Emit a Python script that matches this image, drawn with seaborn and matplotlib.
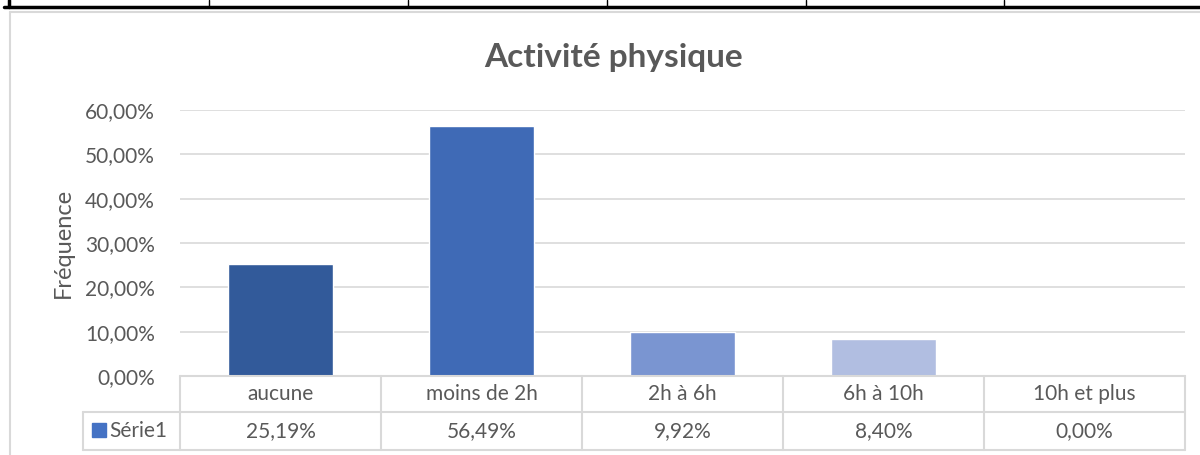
import matplotlib
matplotlib.use('Agg')
import matplotlib.pyplot as plt
import seaborn as sns
import pandas as pd
from matplotlib.lines import Line2D
from matplotlib.patches import Rectangle

# data
categories = ['aucune', 'moins de 2h', '2h à 6h', '6h à 10h', '10h et plus']
frequences = [0.2519, 0.5649, 0.0992, 0.0840, 0.0]
bar_colors = ['#325A9A', '#3F6AB6', '#7A95D1', '#B1BEE1', '#D5DCEF']
y_ticks = [0, 0.1, 0.2, 0.3, 0.4, 0.5, 0.6]
series_name = 'Série1'
title = 'Activité physique'
y_label = 'Fréquence'

W, H = 1200, 455


def fx(px):
    return px / W


def fy(py):
    return 1 - py / H


def fr(v):
    return f'{v * 100:.2f}%'.replace('.', ',')


sns.set_theme(style='white')
plt.rcParams['font.family'] = ['Lato', 'DejaVu Sans']

grey_text = '#595959'
grid_grey = '#D9D9D9'

fig = plt.figure(figsize=(12, 4.55), dpi=100)
ax = fig.add_axes([fx(180), fy(376), fx(1185) - fx(180), fy(110) - fy(376)])

df = pd.DataFrame({'cat': categories, 'val': frequences})
sns.barplot(data=df, x='cat', y='val', hue='cat', palette=bar_colors,
            width=0.52, saturation=1, legend=False, ax=ax)

ax.set_xlim(-0.5, 4.5)
ax.set_ylim(0, 0.6)
ax.set_yticks(y_ticks)
ax.set_yticklabels([fr(v) for v in y_ticks], color=grey_text, fontsize=15)
ax.tick_params(axis='y', length=0, pad=18)
ax.set_xticks([])
ax.set_xlabel('')
ax.set_ylabel('')
ax.yaxis.grid(True, color=grid_grey, lw=1.2)
ax.set_axisbelow(True)
for s in ax.spines.values():
    s.set_visible(False)

fig.text(fx(63), fy(243), y_label, rotation=90, ha='center', va='center',
         fontsize=17, color=grey_text)
fig.text(fx(614), fy(57), title, ha='center', va='center', fontsize=24,
         fontweight='bold', color=grey_text)

# data table under the axis
ax_h = 266
r1 = -36 / ax_h
r2 = -74 / ax_h
leg_left = -0.5 - 97 / 201
tr = ax.get_xaxis_transform()
kw = dict(color=grid_grey, lw=1.5, transform=tr, clip_on=False)
ax.plot([-0.5, 4.5], [0, 0], **kw)
ax.plot([leg_left, 4.5], [r1, r1], **kw)
ax.plot([leg_left, 4.5], [r2, r2], **kw)
for b in [-0.5, 0.5, 1.5, 2.5, 3.5, 4.5]:
    ax.plot([b, b], [0, r2], **kw)
ax.plot([leg_left, leg_left], [r1, r2], **kw)

for i, (c, v) in enumerate(zip(categories, frequences)):
    ax.text(i, r1 / 2, c, transform=tr, ha='center', va='center',
            fontsize=15, color=grey_text)
    ax.text(i, (r1 + r2) / 2, fr(v), transform=tr, ha='center', va='center',
            fontsize=15, color=grey_text)

fig.add_artist(Rectangle((fx(92), fy(437)), fx(14), 14 / H,
                         transform=fig.transFigure, color='#4472C4'))
fig.text(fx(109), fy(431), series_name, ha='left', va='center',
         fontsize=15, color=grey_text)

# chart frame and the bit of page table above it
fig.add_artist(Line2D([fx(10), fx(10)], [fy(12), 0], color=grid_grey, lw=1.5))
fig.add_artist(Line2D([fx(10), 1], [fy(12), fy(12)], color=grid_grey, lw=1.5))
fig.add_artist(Line2D([fx(4), 1], [fy(7), fy(7)], color='black', lw=2.5))
fig.add_artist(Line2D([fx(9), fx(9)], [1, fy(7)], color='black', lw=2.5))
for x in [209, 408, 607, 806, 1004]:
    fig.add_artist(Line2D([fx(x), fx(x)], [1, fy(7)], color='black', lw=1))

fig.savefig('out.png', dpi=100)
